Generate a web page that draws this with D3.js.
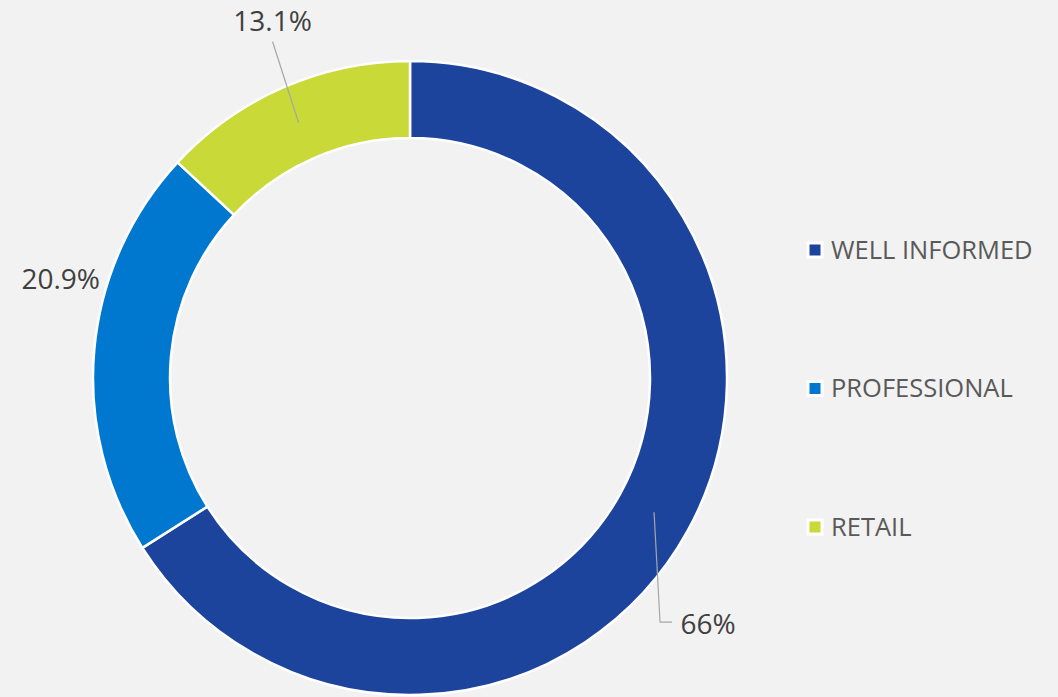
<!DOCTYPE html>
<html>
<head>
<meta charset="utf-8">
<script src="https://cdn.jsdelivr.net/npm/d3@7"></script>
<style>
  html, body { margin: 0; padding: 0; background: #f2f2f2; }
  svg { display: block; font-family: "Open Sans", "Noto Sans", sans-serif; }
</style>
</head>
<body>
<div id="chart"></div>
<script>
// data
var categories = ['WELL INFORMED', 'PROFESSIONAL', 'RETAIL'];
var shares = [66, 20.9, 13.1];
var labels = ['66%', '20.9%', '13.1%'];
var colors = ['#1d449c', '#0078d0', '#c8d938'];

var width = 1058, height = 697;
var cx = 410, cy = 378;
var rOuter = 317, rInner = 240;

// where Excel left each label, relative to its slice centroid
var labelShift = [[54, 122], [-72, -64], [-26, -92]];
var hasLeader = [true, false, true];

var svg = d3.select('#chart')
  .append('svg')
  .attr('width', width)
  .attr('height', height);

svg.append('rect')
  .attr('width', width)
  .attr('height', height)
  .attr('fill', '#f2f2f2');

var pie = d3.pie().sort(null).value(function(d){ return d; });
var arcs = pie(shares);

var arc = d3.arc().innerRadius(rInner).outerRadius(rOuter);

var g = svg.append('g').attr('transform', 'translate(' + cx + ',' + cy + ')');

g.selectAll('path.slice')
  .data(arcs)
  .enter()
  .append('path')
  .attr('class', 'slice')
  .attr('d', arc)
  .attr('fill', function(d, i){ return colors[i]; })
  .attr('stroke', '#fff')
  .attr('stroke-width', 2.5)
  .attr('stroke-linejoin', 'round');

// leader lines + labels
arcs.forEach(function(d, i){
  var c = arc.centroid(d);
  var lx = c[0] + labelShift[i][0];
  var ly = c[1] + labelShift[i][1];

  if(hasLeader[i]){
    var pts;
    if(lx > c[0]){
      // label sits right of the slice: go down, then elbow toward the text
      pts = [c, [c[0] + 6, ly - 12], [lx - 36, ly - 12]];
    } else {
      pts = [c, [lx, ly + 11]];
    }
    g.append('path')
      .attr('d', d3.line()(pts))
      .attr('fill', 'none')
      .attr('stroke', '#a6a6a6')
      .attr('stroke-width', 1.2);
  }

  g.append('text')
    .attr('x', lx)
    .attr('y', ly)
    .attr('text-anchor', 'middle')
    .attr('font-size', 28)
    .attr('fill', '#404040')
    .text(labels[i]);
});

// legend
var legendY = d3.scalePoint()
  .domain(categories)
  .range([250, 527]);

var legend = svg.selectAll('g.legend')
  .data(categories)
  .enter()
  .append('g')
  .attr('class', 'legend')
  .attr('transform', function(d){ return 'translate(808,' + legendY(d) + ')'; });

legend.append('rect')
  .attr('x', 0)
  .attr('y', -7)
  .attr('width', 14)
  .attr('height', 14)
  .attr('fill', function(d, i){ return colors[i]; })
  .attr('stroke', '#fff')
  .attr('stroke-width', 3);

legend.append('text')
  .attr('x', 23)
  .attr('y', 0)
  .attr('dy', '0.35em')
  .attr('font-size', 25.5)
  .attr('fill', '#595959')
  .text(function(d){ return d; });
</script>
</body>
</html>
